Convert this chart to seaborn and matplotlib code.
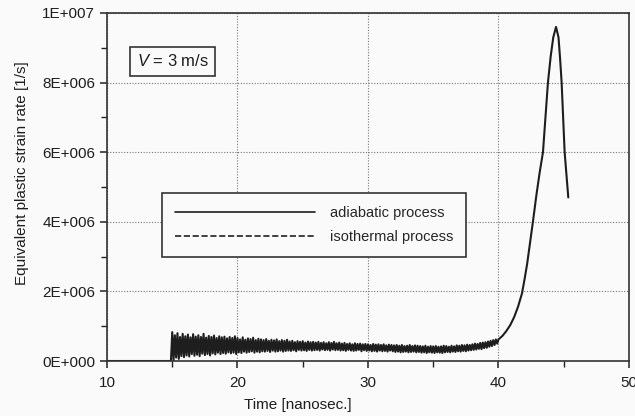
import numpy as np
import pandas as pd
import matplotlib
matplotlib.use("Agg")
import matplotlib.pyplot as plt
import seaborn as sns

sns.set_style("ticks")
plt.rcParams["font.family"] = ["Liberation Sans", "DejaVu Sans"]
plt.rcParams["mathtext.fontset"] = "custom"
plt.rcParams["mathtext.it"] = "Liberation Sans:italic"
plt.rcParams["mathtext.rm"] = "Liberation Sans"

# ---------------------------------------------------------------
# Data (strain rate in 1/s)
# ---------------------------------------------------------------
# quiet start before the wave arrives
flat_time = [10.0, 14.9]
flat_rate = [0.0, 0.0]

# noisy plateau, sampled every 0.1 ns from 15.0 to 39.9 (values in 1e5 1/s),
# one row per nanosecond
noise_time = np.round(np.arange(15.0, 39.95, 0.1), 1)
noise_rate_1e5 = [
    8.3, 0.2, 7.4, 1.0, 8.0, 0.6, 6.9, 1.4, 7.8, 1.1,  # 15
    7.1, 1.6, 7.6, 1.3, 6.8, 2.0, 7.7, 1.5, 7.0, 1.8,  # 16
    7.4, 1.4, 6.9, 2.1, 7.8, 1.7, 6.7, 2.0, 7.2, 1.6,  # 17
    6.9, 2.2, 7.3, 1.9, 6.6, 2.4, 7.1, 2.0, 6.8, 2.3,  # 18
    7.0, 2.1, 6.5, 2.5, 6.9, 2.2, 6.6, 2.4, 7.1, 2.0,  # 19
    6.6, 2.5, 6.2, 2.3, 6.8, 2.7, 6.1, 2.4, 6.5, 2.6,  # 20
    6.3, 2.8, 6.7, 2.4, 6.0, 2.7, 6.4, 2.5, 6.2, 2.8,  # 21
    6.0, 2.7, 6.3, 2.9, 5.8, 2.6, 6.1, 3.0, 5.9, 2.7,  # 22
    6.2, 2.8, 5.7, 3.0, 6.0, 2.7, 5.8, 2.9, 6.1, 3.0,  # 23
    5.6, 2.9, 5.8, 3.1, 5.4, 2.8, 5.7, 3.2, 5.5, 3.0,  # 24
    5.7, 3.1, 5.3, 2.9, 5.6, 3.2, 5.4, 3.0, 5.5, 3.1,  # 25
    5.3, 3.2, 5.5, 3.0, 5.2, 3.3, 5.4, 3.1, 5.1, 3.2,  # 26
    5.4, 3.0, 5.2, 3.3, 5.5, 3.1, 5.1, 3.2, 5.3, 3.0,  # 27
    5.0, 3.1, 5.2, 2.9, 4.9, 3.2, 5.1, 3.0, 4.8, 2.9,  # 28
    5.1, 3.0, 4.9, 3.2, 5.0, 2.8, 4.8, 3.1, 4.9, 2.9,  # 29
    4.8, 3.0, 4.6, 2.8, 4.9, 2.9, 4.7, 2.7, 4.8, 3.0,  # 30
    4.6, 2.8, 4.8, 2.9, 4.5, 2.7, 4.7, 3.0, 4.6, 2.8,  # 31
    4.5, 2.6, 4.6, 2.7, 4.4, 2.5, 4.6, 2.6, 4.3, 2.7,  # 32
    4.4, 2.5, 4.6, 2.6, 4.3, 2.7, 4.5, 2.5, 4.4, 2.6,  # 33
    4.3, 2.4, 4.2, 2.5, 4.4, 2.3, 4.1, 2.5, 4.3, 2.4,  # 34
    4.2, 2.3, 4.3, 2.5, 4.1, 2.4, 4.2, 2.3, 4.4, 2.5,  # 35
    4.3, 2.6, 4.1, 2.5, 4.4, 2.7, 4.2, 2.6, 4.5, 2.8,  # 36
    4.4, 2.7, 4.6, 2.9, 4.5, 2.8, 4.7, 3.0, 4.6, 3.1,  # 37
    4.8, 3.2, 5.0, 3.3, 4.9, 3.5, 5.2, 3.4, 5.3, 3.7,  # 38
    5.4, 3.8, 5.6, 4.1, 5.8, 4.3, 6.0, 4.6, 6.2, 5.0,  # 39
]

# localisation: sharp rise, peak and drop (values in 1e6 1/s)
peak_time = [40.0, 40.3, 40.6, 40.9, 41.2, 41.5, 41.8, 42.0, 42.2, 42.4,
             42.64, 42.9, 43.15, 43.41, 43.6, 43.79, 44.0, 44.2, 44.41,
             44.6, 44.72, 44.84, 45.07, 45.35]
peak_rate_1e6 = [0.62, 0.72, 0.86, 1.03, 1.26, 1.56, 1.94, 2.35, 2.8, 3.35,
                 4.0, 4.75, 5.4, 6.0, 7.0, 8.0, 8.75, 9.3, 9.6,
                 9.3, 8.7, 8.0, 6.0, 4.7]

# isothermal curve lies under the adiabatic one (not distinguishable)
iso_time = [10.0, 14.9]
iso_rate = [0.0, 0.0]

adiabatic = pd.DataFrame({
    "time": list(flat_time) + list(noise_time) + peak_time,
    "rate": flat_rate + [v * 1e5 for v in noise_rate_1e5] + [v * 1e6 for v in peak_rate_1e6],
})
isothermal = pd.DataFrame({"time": iso_time, "rate": iso_rate})

x_ticks = [10, 20, 30, 40, 50]
y_ticks = [0, 2e6, 4e6, 6e6, 8e6, 1e7]
y_ticklabels = ["0E+000", "2E+006", "4E+006", "6E+006", "8E+006", "1E+007"]

# ---------------------------------------------------------------
# Plot
# ---------------------------------------------------------------
fig = plt.figure(figsize=(6.35, 4.16), dpi=100, facecolor="#fafafa")
ax = fig.add_axes([0.1685, 0.1322, 0.822, 0.8366])
ax.set_facecolor("#fafafa")

sns.lineplot(data=isothermal, x="time", y="rate", ax=ax, color="#222222",
             linestyle="--", linewidth=1.2, sort=False, label="isothermal process")
sns.lineplot(data=adiabatic, x="time", y="rate", ax=ax, color="#1e1e1e",
             linewidth=1.5, sort=False, label="adiabatic process")

ax.set_xlim(10, 50)
ax.set_ylim(0, 1e7)
ax.set_xticks(x_ticks)
ax.set_xticks([15, 25, 35, 45], minor=True)
ax.set_yticks(y_ticks)
ax.set_yticklabels(y_ticklabels)
ax.set_yticks([1e6, 3e6, 5e6, 7e6, 9e6], minor=True)
ax.tick_params(which="major", direction="out", length=5, width=1.1,
               labelsize=11, color="#222222", labelcolor="#1e1e1e")
ax.tick_params(axis="x", which="major", pad=6)
ax.tick_params(which="minor", direction="out", length=4, width=1.0, color="#222222")
ax.grid(which="major", linestyle=(0, (1, 1.5)), linewidth=0.8, color="#777777")

for side in ["top", "right", "left", "bottom"]:
    ax.spines[side].set_visible(True)
    ax.spines[side].set_linewidth(1.2)
    ax.spines[side].set_color("#333333")

ax.set_xlabel("Time [nanosec.]", fontsize=11, color="#1e1e1e")
ax.set_ylabel("Equivalent plastic strain rate [1/s]", fontsize=11, color="#1e1e1e")
ax.xaxis.set_label_coords(0.366, -0.105)
ax.yaxis.set_label_coords(-0.15, 0.539)

handles, labels = ax.get_legend_handles_labels()
order = [labels.index("adiabatic process"), labels.index("isothermal process")]
leg = ax.legend([handles[i] for i in order], [labels[i] for i in order],
                loc="upper left", bbox_to_anchor=(0.105, 0.483),
                fontsize=10.5, handlelength=9.6, handletextpad=1.0,
                labelspacing=0.68, borderpad=0.9, borderaxespad=0,
                fancybox=False, framealpha=1, edgecolor="#333333")
leg.get_frame().set_linewidth(1.2)
leg.get_frame().set_facecolor("#fafafa")
for line in leg.get_lines():
    line.set_linewidth(1.2)

ax.text(0.126, 0.861, "$V$ = 3 m/s", transform=ax.transAxes, fontsize=12,
        ha="center", va="center", color="#1e1e1e",
        bbox=dict(boxstyle="square,pad=0.4", facecolor="#fafafa",
                  edgecolor="#333333", linewidth=1.2))

fig.savefig("out.png", dpi=100, facecolor=fig.get_facecolor())
